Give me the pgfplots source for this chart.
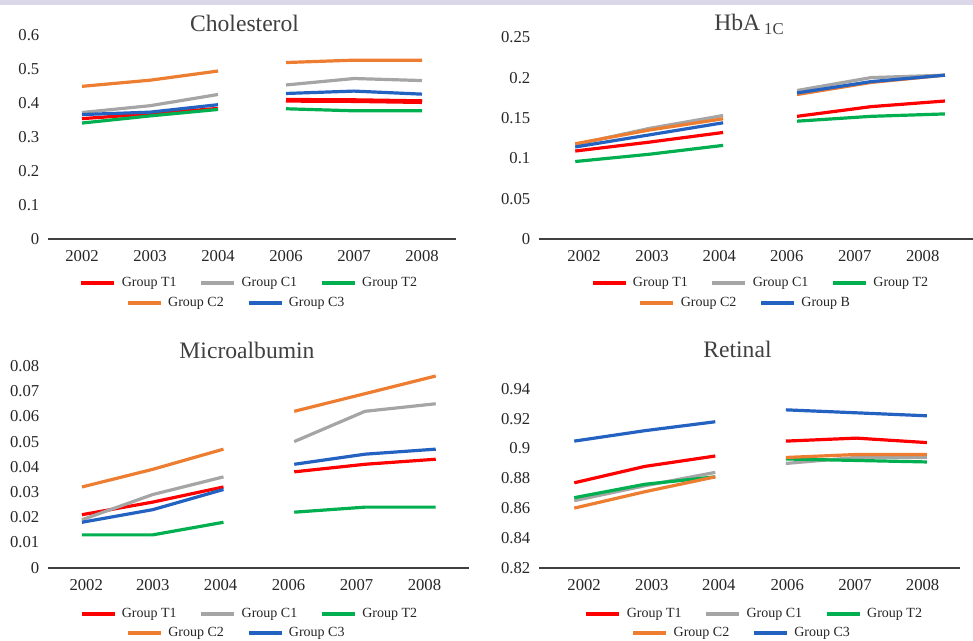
\documentclass[border=0pt]{standalone}
\usepackage{fontspec}
\setmainfont{Liberation Serif}
\usepackage{pgfplots}
\pgfplotsset{compat=1.18}
\usepackage{pgfplotstable}

\definecolor{cRed}{HTML}{FF0000}
\definecolor{cGrey}{HTML}{A5A5A5}
\definecolor{cGreen}{HTML}{00B050}
\definecolor{cOrange}{HTML}{ED7D31}
\definecolor{cBlue}{HTML}{2462C2}
\definecolor{band}{HTML}{D9D7E8}
\definecolor{axgray}{HTML}{404040}
\definecolor{txt}{HTML}{262626}

\pgfplotstableread{
x T1 C1 T2 C2 C3
0 0.354 0.372 0.341 0.449 0.366
1 0.368 0.392 0.362 0.467 0.373
2 0.384 0.425 0.381 0.494 0.395
2.5 nan nan nan nan nan
3 0.408 0.453 0.383 0.519 0.428
4 0.407 0.472 0.377 0.526 0.435
5 0.404 0.466 0.377 0.526 0.426
}\chol

\pgfplotstableread{
x T1 C1 T2 C2 B
0 0.109 0.117 0.096 0.118 0.114
1 0.120 0.137 0.105 0.135 0.129
2 0.132 0.153 0.116 0.149 0.144
2.5 nan nan nan nan nan
3 0.152 0.184 0.146 0.179 0.181
4 0.164 0.200 0.152 0.194 0.195
5 0.171 0.203 0.155 0.203 0.203
}\hba

\pgfplotstableread{
x T1 C1 T2 C2 C3
0 0.021 0.019 0.013 0.032 0.018
1 0.026 0.029 0.013 0.039 0.023
2 0.032 0.036 0.018 0.047 0.031
2.5 nan nan nan nan nan
3 0.038 0.050 0.022 0.062 0.041
4 0.041 0.062 0.024 0.069 0.045
5 0.043 0.065 0.024 0.076 0.047
}\micro

\pgfplotstableread{
x T1 C1 T2 C2 C3
0 0.877 0.865 0.867 0.860 0.905
1 0.888 0.875 0.876 0.871 0.912
2 0.895 0.884 0.881 0.881 0.918
2.5 nan nan nan nan nan
3 0.905 0.890 0.893 0.894 0.926
4 0.907 0.894 0.892 0.896 0.924
5 0.904 0.894 0.891 0.896 0.922
}\retin

\pgfplotsset{
  sT1/.style={color=cRed, line width=2.4pt},
  sC1/.style={color=cGrey, line width=2.4pt},
  sT2/.style={color=cGreen, line width=2.4pt},
  sC2/.style={color=cOrange, line width=2.4pt},
  sC3/.style={color=cBlue, line width=2.4pt},
  legfont/.style={font=\fontsize{10.5}{12}\selectfont, text=txt},
  panel/.style={
    scale only axis, clip=false,
    axis x line*=bottom, axis y line*=left,
    y axis line style={draw=none},
    x axis line style={line width=1.5pt, color=axgray, -},
    major tick length=0pt, tick style={draw=none},
    unbounded coords=jump, scaled y ticks=false,
    /pgf/number format/assume math mode=true,
    yticklabel style={/pgf/number format/fixed, /pgf/number format/precision=2,
      font=\fontsize{12.5}{14}\selectfont, text=txt, xshift=-3pt},
    xticklabel style={font=\fontsize{12.5}{14}\selectfont, text=txt, yshift=-5pt},
    xticklabels={2002,2003,2004,2006,2007,2008},
    legend columns=3,
    legend image code/.code={\draw[##1, line width=3pt] (0pt,0pt) -- (24.75pt,0pt);},
    legend style={draw=none, fill=none, anchor=center, legfont,
      /tikz/every odd column/.append style={column sep=2pt},
      /tikz/every even column/.append style={column sep=15pt}},
  },
  hid/.style={
    scale only axis, hide axis, xmin=0, xmax=1, ymin=0, ymax=1,
    legend columns=2,
    legend image code/.code={\draw[##1, line width=3pt] (0pt,0pt) -- (24.75pt,0pt);},
    legend style={draw=none, fill=none, anchor=center, legfont,
      /tikz/every odd column/.append style={column sep=2pt},
      /tikz/every even column/.append style={column sep=15pt}},
  },
}

\newcommand{\tfont}{\fontsize{17.7}{20}\selectfont\color{axgray}}

\begin{document}
\begin{tikzpicture}[x=1pt,y=1pt]
\path[use as bounding box] (0,0) rectangle (729.75,480.75);
\fill[band] (0,477) rectangle (729.75,480.75);

% ---------------- Cholesterol
\begin{axis}[panel, at={(36pt,301.5pt)}, anchor=south west, width=306pt, height=153pt,
  xmin=-0.5, xmax=5.5, ymin=0, ymax=0.6, ytick={0,0.1,0.2,0.3,0.4,0.5,0.6},
  xtick={0,1,2,3,4,5}, legend style={at={(0.494,-0.215)}}]
\addplot[sT1, forget plot] table[x=x,y=T1]{\chol};
\addplot[sT1, line width=3.6pt, forget plot, restrict x to domain=2.9:5.1] table[x=x,y=T1]{\chol};
\addplot[sC1, forget plot] table[x=x,y=C1]{\chol};
\addplot[sT2, forget plot] table[x=x,y=T2]{\chol};
\addplot[sC2, forget plot] table[x=x,y=C2]{\chol};
\addplot[sC3, forget plot] table[x=x,y=C3]{\chol};
\addlegendimage{sT1}\addlegendentry{Group T1}
\addlegendimage{sC1}\addlegendentry{Group C1}
\addlegendimage{sT2}\addlegendentry{Group T2}
\end{axis}
\begin{axis}[hid, at={(36pt,301.5pt)}, anchor=south west, width=306pt, height=153pt,
  legend style={at={(0.462,-0.312)}}]
\addlegendimage{sC2}\addlegendentry{Group C2}
\addlegendimage{sC3}\addlegendentry{Group C3}
\end{axis}
\node[font=\tfont] at (183.4,463) {Cholesterol};

% ---------------- HbA1C
\begin{axis}[panel, at={(404.25pt,301.5pt)}, anchor=south west, width=325.5pt, height=151.3pt,
  xmin=-0.49, xmax=5.38, ymin=0, ymax=0.25, ytick={0,0.05,0.1,0.15,0.2,0.25},
  xtick={0.12,1.04,1.95,2.86,3.78,4.70}, legend style={at={(0.511,-0.218)}}]
\addplot[sT1, forget plot] table[x=x,y=T1]{\hba};
\addplot[sC1, forget plot] table[x=x,y=C1]{\hba};
\addplot[sT2, forget plot] table[x=x,y=T2]{\hba};
\addplot[sC2, forget plot] table[x=x,y=C2]{\hba};
\addplot[sC3, forget plot] table[x=x,y=B]{\hba};
\addlegendimage{sT1}\addlegendentry{Group T1}
\addlegendimage{sC1}\addlegendentry{Group C1}
\addlegendimage{sT2}\addlegendentry{Group T2}
\end{axis}
\begin{axis}[hid, at={(404.25pt,301.5pt)}, anchor=south west, width=325.5pt, height=151.3pt,
  legend style={at={(0.476,-0.316)}}]
\addlegendimage{sC2}\addlegendentry{Group C2}
\addlegendimage{sC3}\addlegendentry{Group B}
\end{axis}
\node[font=\tfont] at (561.75,462.5) {HbA\,\raisebox{-0.35ex}{\fontsize{12.5}{13}\selectfont 1C}};

% ---------------- Microalbumin
\begin{axis}[panel, at={(36pt,55pt)}, anchor=south west, width=315.75pt, height=151.3pt,
  xmin=-0.48, xmax=5.47, ymin=0, ymax=0.08,
  ytick={0,0.01,0.02,0.03,0.04,0.05,0.06,0.07,0.08},
  xtick={0.06,1.00,1.96,2.92,3.88,4.84}, legend style={at={(0.479,-0.228)}}]
\addplot[sT1, forget plot] table[x=x,y=T1]{\micro};
\addplot[sC1, forget plot] table[x=x,y=C1]{\micro};
\addplot[sT2, forget plot] table[x=x,y=T2]{\micro};
\addplot[sC2, forget plot] table[x=x,y=C2]{\micro};
\addplot[sC3, forget plot] table[x=x,y=C3]{\micro};
\addlegendimage{sT1}\addlegendentry{Group T1}
\addlegendimage{sC1}\addlegendentry{Group C1}
\addlegendimage{sT2}\addlegendentry{Group T2}
\end{axis}
\begin{axis}[hid, at={(36pt,55pt)}, anchor=south west, width=315.75pt, height=151.3pt,
  legend style={at={(0.448,-0.325)}}]
\addlegendimage{sC2}\addlegendentry{Group C2}
\addlegendimage{sC3}\addlegendentry{Group C3}
\end{axis}
\node[font=\tfont] at (185.25,218) {Microalbumin};

% ---------------- Retinal
\begin{axis}[panel, at={(404.25pt,55pt)}, anchor=south west, width=315.75pt, height=134pt,
  xmin=-0.50, xmax=5.47, ymin=0.82, ymax=0.94,
  ytick={0.82,0.84,0.86,0.88,0.9,0.92,0.94},
  xtick={0.14,1.10,2.05,3.02,3.98,4.94}, legend style={at={(0.512,-0.258)}}]
\addplot[sT1, forget plot] table[x=x,y=T1]{\retin};
\addplot[sC1, forget plot] table[x=x,y=C1]{\retin};
\addplot[sT2, forget plot] table[x=x,y=T2]{\retin};
\addplot[sC2, forget plot] table[x=x,y=C2]{\retin};
\addplot[sC3, forget plot] table[x=x,y=C3]{\retin};
\addlegendimage{sT1}\addlegendentry{Group T1}
\addlegendimage{sC1}\addlegendentry{Group C1}
\addlegendimage{sT2}\addlegendentry{Group T2}
\end{axis}
\begin{axis}[hid, at={(404.25pt,55pt)}, anchor=south west, width=315.75pt, height=134pt,
  legend style={at={(0.482,-0.367)}}]
\addlegendimage{sC2}\addlegendentry{Group C2}
\addlegendimage{sC3}\addlegendentry{Group C3}
\end{axis}
\node[font=\tfont] at (553.1,218.5) {Retinal};
\end{tikzpicture}
\end{document}
